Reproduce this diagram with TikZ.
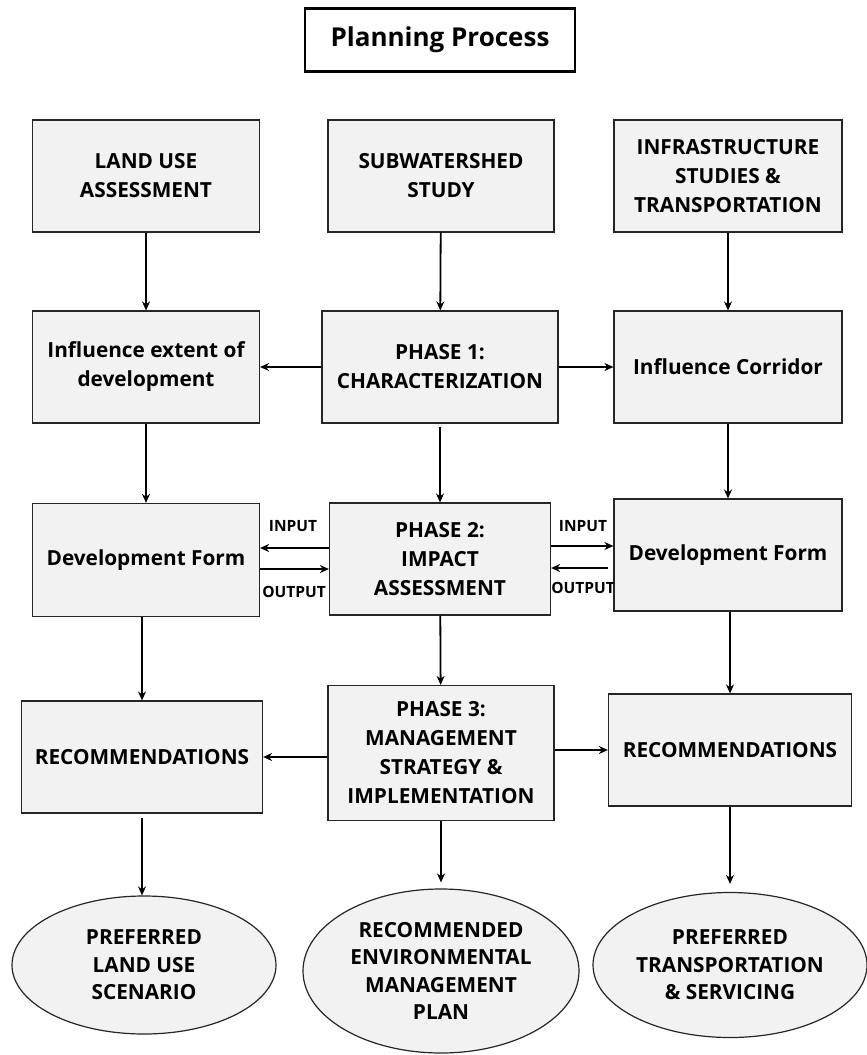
\documentclass[tikz,border=0pt]{standalone}
\usepackage{fontspec}
\setmainfont{Open Sans}
\usepackage{xcolor}
\usepackage{tikz}
\usetikzlibrary{shapes.geometric,arrows.meta,positioning,calc}

\definecolor{boxgray}{HTML}{F2F2F2}

\begin{document}
\begin{tikzpicture}[x=1pt, y=-1pt,
    pbox/.style={rectangle, draw=black!85, fill=boxgray, line width=1.2pt, align=center, inner sep=0pt, font=\bfseries\fontsize{20.8}{29}\selectfont},
    pend/.style={ellipse, draw=black!85, fill=boxgray, line width=1.2pt, align=center, inner sep=0pt, font=\bfseries\fontsize{20.8}{27.5}\selectfont},
    io/.style={font=\bfseries\fontsize{15.5}{16}\selectfont, inner sep=0pt},
    arr/.style={-{Stealth[length=9pt,width=8pt]}, line width=1.8pt},
    harr/.style={-{Stealth[length=9pt,width=8pt]}, line width=2.4pt}]

    \useasboundingbox (0,0) rectangle (867,1055);

    \node[draw, line width=2.6pt, minimum width=270pt, minimum height=63pt, font=\bfseries\fontsize{26}{30}\selectfont] (title) at (440,40) {Planning Process};

    % inputs
    \node[pbox, minimum width=227pt, minimum height=112pt] (land) at (146,176) {LAND USE\\ASSESSMENT};
    \node[pbox, minimum width=226pt, minimum height=112pt] (subw) at (441,176) {SUBWATERSHED\\STUDY};
    \node[pbox, minimum width=228pt, minimum height=112pt] (infra) at (728,176) {INFRASTRUCTURE\\STUDIES \&\\TRANSPORTATION};

    % phase 1
    \node[pbox, minimum width=227pt, minimum height=112pt] (extent) at (146,367) {Influence extent of\\development};
    \node[pbox, minimum width=236pt, minimum height=112pt] (ph1) at (440,367) {PHASE 1:\\CHARACTERIZATION};
    \node[pbox, minimum width=228pt, minimum height=112pt] (corr) at (728,367) {Influence Corridor};

    % phase 2
    \node[pbox, minimum width=227pt, minimum height=113pt] (devl) at (146,560) {Development Form};
    \node[pbox, minimum width=221pt, minimum height=112pt] (ph2) at (440,559) {PHASE 2:\\IMPACT\\ASSESSMENT};
    \node[pbox, minimum width=228pt, minimum height=112pt] (devr) at (728,555) {Development Form};

    % phase 3
    \node[pbox, minimum width=241pt, minimum height=112pt] (recl) at (142,757) {RECOMMENDATIONS};
    \node[pbox, minimum width=226pt, minimum height=135pt] (ph3) at (441,753) {PHASE 3:\\MANAGEMENT\\STRATEGY \&\\IMPLEMENTATION};
    \node[pbox, minimum width=243pt, minimum height=112pt] (recr) at (730,750) {RECOMMENDATIONS};

    % outcomes
    \node[pend, minimum width=264pt, minimum height=138pt] (landout) at (144,965) {PREFERRED\\LAND USE\\SCENARIO};
    \node[pend, minimum width=276pt, minimum height=164pt] (envout) at (441,971) {RECOMMENDED\\ENVIRONMENTAL\\MANAGEMENT\\PLAN};
    \node[pend, minimum width=274pt, minimum height=145pt] (trout) at (730,965) {PREFERRED\\TRANSPORTATION\\\& SERVICING};

    \node[io] (inl) at (293,526) {INPUT};
    \node[io] (outl) at (294,592) {OUTPUT};
    \node[io] (inr) at (583,526) {INPUT};
    \node[io] (outr) at (583,588) {OUTPUT};

    \draw[arr] (land) -- (extent);
    \draw[arr] (subw) -- (ph1);
    \draw[arr] (infra) -- (corr);
    \draw[harr] (ph1) -- (extent);
    \draw[harr] (ph1) -- (corr);

    \draw[arr] (extent) -- (devl);
    \draw[arr, shorten <=3pt] (ph1) -- (ph2);
    \draw[arr] (corr) -- (devr);

    \draw[harr] ([yshift=11pt]ph2.west) -- ([yshift=11pt]ph2.west -| devl.east);
    \draw[harr] ([yshift=-9pt]devl.east) -- ([yshift=-9pt]devl.east -| ph2.west);
    \draw[harr] ([yshift=13pt]ph2.east) -- ([yshift=13pt]ph2.east -| devr.west);
    \draw[harr, shorten <=5pt] ([yshift=-13pt]devr.west) -- ([yshift=-13pt]devr.west -| ph2.east);

    \draw[arr] (devl.south -| recl.north) -- (recl.north);
    \draw[arr] (ph2) -- (ph3);
    \draw[arr] (devr.south -| recr.north) -- (recr.north);
    \draw[harr] (recl.east -| ph3.west) -- (recl.east);
    \draw[harr] (recr.west -| ph3.east) -- (recr.west);

    \draw[arr, shorten <=4pt] (recl.south) -- (recl.south |- landout.north);
    \draw[arr, shorten >=6pt] (ph3) -- (envout);
    \draw[arr, shorten >=8pt] (recr.south) -- (recr.south |- trout.north);

\end{tikzpicture}
\end{document}
